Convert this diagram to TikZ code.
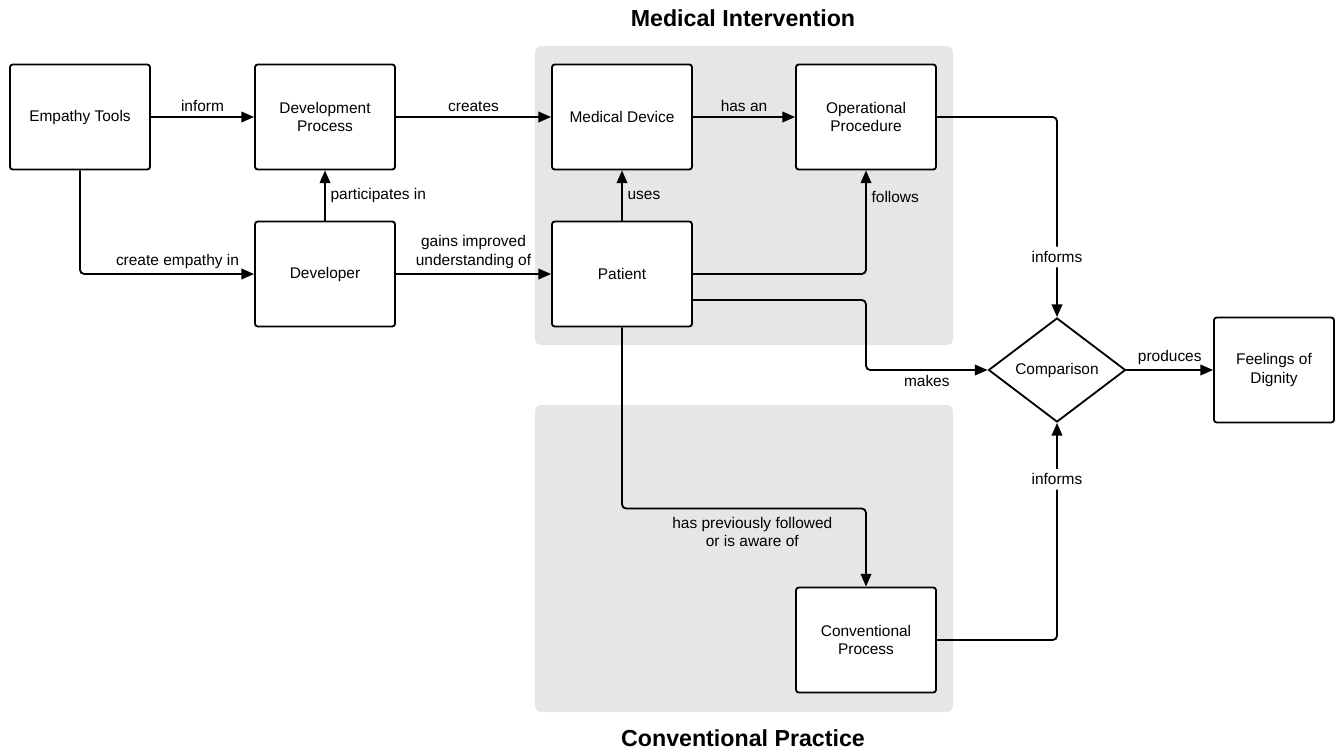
\documentclass[tikz,border=0pt]{standalone}
\usepackage{fontspec}
\setmainfont{Liberation Sans}
\usetikzlibrary{shapes.geometric,arrows.meta}
\definecolor{regiongray}{HTML}{E6E6E6}
\begin{document}
\begin{tikzpicture}[x=0.025cm, y=-0.025cm,
    box/.style ={rectangle, draw, line width=1.3pt, rounded corners=2pt, fill=white, align=center,
      minimum width=3.5cm, minimum height=2.625cm, inner sep=2pt, font=\fontsize{11}{13}\selectfont},
    decision/.style ={diamond, draw, line width=1.3pt, fill=white, aspect=1.32, inner sep=0pt,
      minimum width=3.425cm, minimum height=2.6cm, font=\fontsize{11}{13}\selectfont},
    region/.style ={fill=regiongray, rounded corners=4pt},
    title/.style ={font=\bfseries\fontsize{16.5}{18}\selectfont},
    lbl/.style ={font=\fontsize{11}{13}\selectfont, align=center},
    arr/.style ={line width=1.3pt, rounded corners=3pt, -{Triangle[length=9pt,width=7.5pt]}}]
   \useasboundingbox (0,0) rectangle (1335,750);
   % grey areas
   \fill[region] (535,46) rectangle (953,345);
   \fill[region] (535,405) rectangle (953,712);
   \node[title] (mi) at (743,18) {Medical Intervention};
   \node[title] (cp) at (743,738) {Conventional Practice};
   % boxes
   \node[box] (tools)  at (80,117)  {Empathy Tools};
   \node[box] (devproc) at (325,117) {Development\\Process};
   \node[box] (device) at (622,117) {Medical Device};
   \node[box] (opproc) at (866,117) {Operational\\Procedure};
   \node[box] (developer) at (325,274) {Developer};
   \node[box] (patient) at (622,274) {Patient};
   \node[box] (convproc) at (866,640) {Conventional\\Process};
   \node[box, minimum width=3cm] (dignity) at (1274,370) {Feelings of\\Dignity};
   \node[decision] (cmp) at (1057,370) {Comparison};
   % connectors
   \draw[arr] (tools) -- node[lbl, above] {inform} (devproc);
   \draw[arr] (tools.south) |- node[lbl, above, pos=0.78] {create empathy in} (developer.west);
   \draw[arr] (developer) -- node[lbl, right] {participates in} (devproc);
   \draw[arr] (developer) -- node[lbl, above] {gains improved\\understanding of} (patient);
   \draw[arr] (devproc) -- node[lbl, above] {creates} (device);
   \draw[arr] (device) -- node[lbl, above] {has an} (opproc);
   \draw[arr] (patient) -- node[lbl, right] {uses} (device);
   \draw[arr] (patient.east) -| node[lbl, right, pos=0.87] {follows} (opproc.south);
   \draw[arr] ([yshift=-0.65cm]patient.east) -| (opproc.south |- cmp.west) -- node[lbl, below] {makes} (cmp.west);
   \draw[arr] (patient.south) |- ([yshift=1.95cm]convproc.north) -- node[lbl, left, pos=0.3, xshift=-20] {has previously followed\\or is aware of} (convproc.north);
   \draw[arr] (opproc.east) -| node[lbl, fill=white, pos=0.85] {informs} (cmp.north);
   \draw[arr] (convproc.east) -| node[lbl, fill=white, pos=0.87] {informs} (cmp.south);
   \draw[arr] (cmp) -- node[lbl, above] {produces} (dignity);
\end{tikzpicture}
\end{document}
